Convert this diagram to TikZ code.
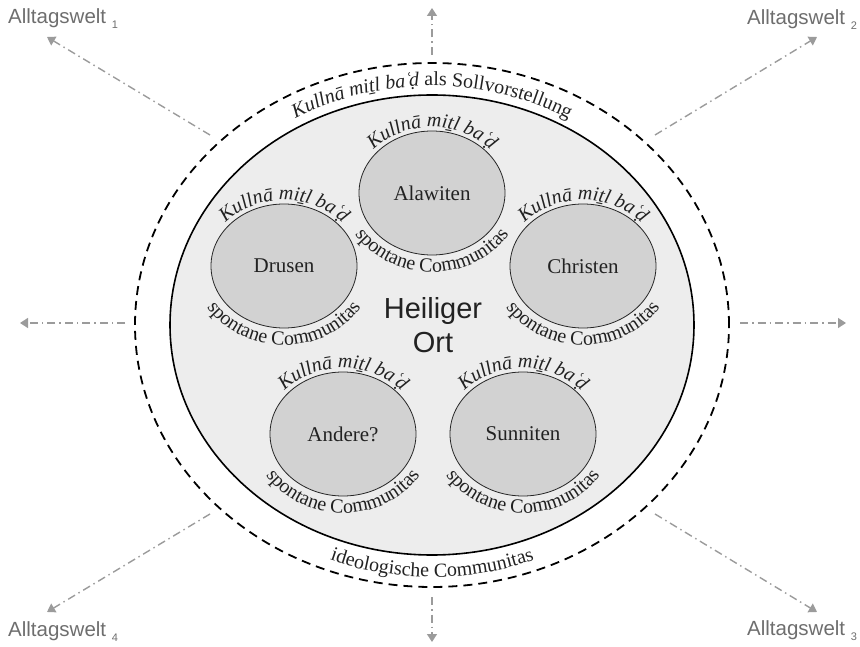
\documentclass[tikz,border=0pt]{standalone}
\usepackage{fontspec}
\setmainfont{Liberation Serif}
\newfontfamily\labelsans{Liberation Sans}
\usetikzlibrary{arrows.meta,decorations.text,shapes.geometric}
\definecolor{innerfill}{HTML}{EDEDED}
\definecolor{groupfill}{HTML}{D2D2D2}
\definecolor{arrowgray}{HTML}{9B9B9B}
\definecolor{labelgray}{HTML}{6E6E6E}
\definecolor{inkdark}{HTML}{222222}
\newcommand{\itfmt}{\fontsize{20}{23}\selectfont\itshape\color{inkdark}}
\newcommand{\upfmt}{\fontsize{20}{23}\selectfont\upshape\color{inkdark}}
\newcommand{\grouplabels}[1]{%
  \path[decorate, decoration={text along path, text align=center,
     text={|\itfmt|Kullnā miṯl ba{\makebox[3.5pt][l]{ʿ}}ḍ}}]
     ([shift={(165:77 and 66)}]#1.center) arc[start angle=165, end angle=15, x radius=77, y radius=66];
  \path[decorate, decoration={text along path, text align=center,
     text={|\upfmt|spontane Communitas}}]
     ([shift={(188:90 and 79)}]#1.center) arc[start angle=188, end angle=352, x radius=90, y radius=79];
}
\tikzset{
  outerring/.style={ellipse, draw=black, line width=1.8pt, dash pattern=on 9pt off 6pt, inner sep=0pt},
  innerring/.style={ellipse, draw=black, line width=1.6pt, fill=innerfill, inner sep=0pt},
  groupdisc/.style={ellipse, draw=black!85, line width=0.8pt, fill=groupfill, inner sep=0pt,
     minimum width=146pt, minimum height=124pt, text=inkdark, font=\fontsize{21}{24}\selectfont},
  worldarrow/.style={draw=arrowgray, line width=1.4pt, dash pattern=on 8pt off 4pt on 1.5pt off 4pt,
     -{Triangle[width=10pt,length=8pt]}, arrowgray},
  worldlabel/.style={anchor=base west, inner sep=0pt, text=labelgray, font=\labelsans\fontsize{20.5}{22}\selectfont},
}
\newcommand{\subidx}[1]{\raisebox{-5pt}{\fontsize{11}{12}\selectfont #1}}
\begin{document}
\begin{tikzpicture}[x=1pt,y=1pt]
\useasboundingbox (0,0) rectangle (860,646);
% rings
\node[outerring, minimum width=594pt, minimum height=524pt] (ideal) at (432,321) {};
\node[innerring, minimum width=524pt, minimum height=460pt] (place) at (432,321) {};
% groups
\node[groupdisc] (alawiten) at (432,453) {Alawiten};
\node[groupdisc] (drusen) at (284,380) {Drusen};
\node[groupdisc] (christen) at (583,380) {Christen};
\node[groupdisc] (andere) at (343,212) {Andere?};
\node[groupdisc] (sunniten) at (523,212) {Sunniten};
\grouplabels{alawiten}
\grouplabels{drusen}
\grouplabels{christen}
\grouplabels{andere}
\grouplabels{sunniten}
% ring texts
\path[decorate, decoration={text along path, text align=center,
   text={|\itfmt|Kullnā miṯl ba{\makebox[3.5pt][l]{ʿ}}ḍ |\upfmt|als Sollvorstellung}}]
   ([shift={(162:271 and 239)}]place.center) arc[start angle=162, end angle=18, x radius=271, y radius=239];
\path[decorate, decoration={text along path, text align=center,
   text={|\upfmt|ideologische Communitas}}]
   ([shift={(225:282 and 252)}]place.center) arc[start angle=225, end angle=315, x radius=282, y radius=252];
% title
\node[align=center, text=inkdark, font=\labelsans\fontsize{29}{34}\selectfont] (title) at (433,321) {Heiliger\\Ort};
% arrows
\coordinate (nstart) at (432,591); \coordinate (nend) at (432,638);
\coordinate (sstart) at (432,49);  \coordinate (send) at (432,4);
\coordinate (wstart) at (125,323); \coordinate (wend) at (20,323);
\coordinate (estart) at (740,323); \coordinate (eend) at (846,323);
\coordinate (nwstart) at (210,511); \coordinate (nwend) at (47,609);
\coordinate (nestart) at (655,511); \coordinate (neend) at (817,609);
\coordinate (swstart) at (210,132); \coordinate (swend) at (47,34);
\coordinate (sestart) at (655,132); \coordinate (seend) at (817,34);
\draw[worldarrow] (nstart) -- (nend);
\draw[worldarrow] (sstart) -- (send);
\draw[worldarrow] (wstart) -- (wend);
\draw[worldarrow] (estart) -- (eend);
\draw[worldarrow] (nwstart) -- (nwend);
\draw[worldarrow] (nestart) -- (neend);
\draw[worldarrow] (swstart) -- (swend);
\draw[worldarrow] (sestart) -- (seend);
% labels
\node[worldlabel] (welt1) at (8,622) {Alltagswelt \subidx{1}};
\node[worldlabel] (welt2) at (747,621) {Alltagswelt \subidx{2}};
\node[worldlabel] (welt4) at (8,10) {Alltagswelt \subidx{4}};
\node[worldlabel] (welt3) at (747,11) {Alltagswelt \subidx{3}};
\end{tikzpicture}
\end{document}
